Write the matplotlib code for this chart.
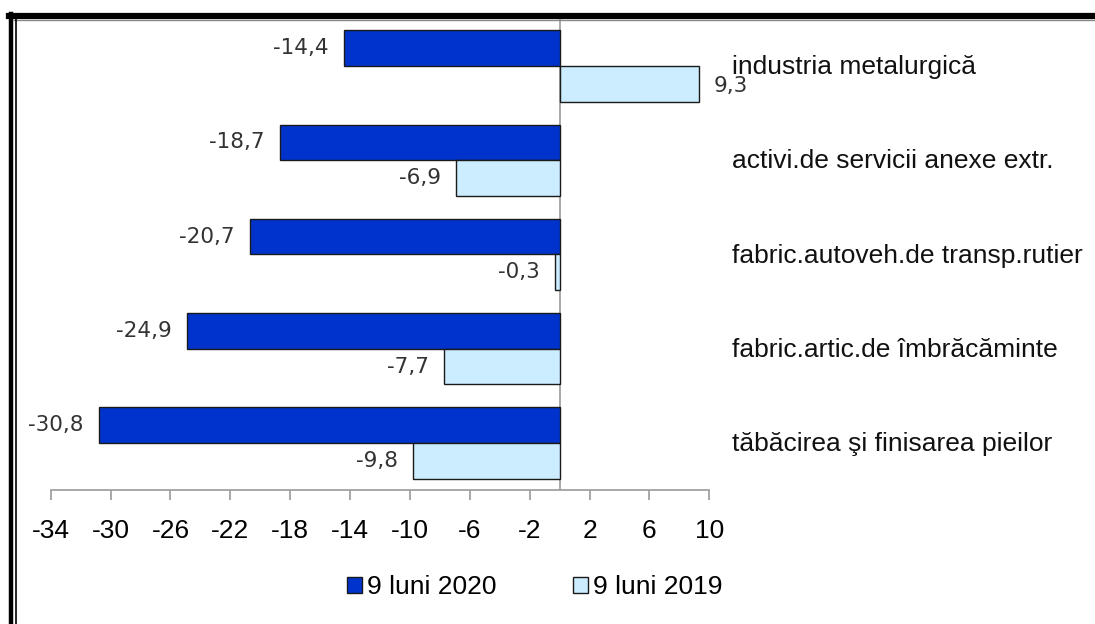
import matplotlib.pyplot as plt
from matplotlib.lines import Line2D

categories = ["industria metalurgică", "activi.de servicii anexe extr.",
              "fabric.autoveh.de transp.rutier", "fabric.artic.de îmbrăcăminte",
              "tăbăcirea şi finisarea pieilor"]
val_2020 = [-14.4, -18.7, -20.7, -24.9, -30.8]
val_2019 = [9.3, -6.9, -0.3, -7.7, -9.8]
series = ["9 luni 2020", "9 luni 2019"]
ticks = [-34, -30, -26, -22, -18, -14, -10, -6, -2, 2, 6, 10]

W, H = 1095, 624
fig = plt.figure(figsize=(W / 100, H / 100), dpi=100)
ax = fig.add_axes([50.7 / W, (H - 490) / H, (709.3 - 50.7) / W, (490 - 19) / H])

bh = 0.38
ypos = list(range(len(categories)))
b1 = ax.barh([y - bh / 2 for y in ypos], val_2020, height=bh, color="#0033CC",
             edgecolor="#1a1a1a", linewidth=1, label=series[0], zorder=3)
b2 = ax.barh([y + bh / 2 for y in ypos], val_2019, height=bh, color="#CCECFF",
             edgecolor="#1a1a1a", linewidth=1, label=series[1], zorder=3)

ax.set_xlim(-34, 10)
ax.set_ylim(len(categories) - 0.5, -0.5)
ax.axvline(0, color="#9a9a9a", lw=1.2, zorder=2)

def fmt(v):
    return f"{v:.1f}".replace(".", ",")

for bars, vals in ((b1, val_2020), (b2, val_2019)):
    for rect, v in zip(bars, vals):
        yc = rect.get_y() + rect.get_height() / 2
        if v < 0:
            ax.annotate(fmt(v), (v, yc), xytext=(-11, 0), textcoords="offset points",
                        ha="right", va="center", fontsize=15.5, color="#333333",
                        family="DejaVu Sans")
        else:
            ax.annotate(fmt(v), (v, yc), xytext=(11, -1.5), textcoords="offset points",
                        ha="left", va="center", fontsize=15.5, color="#333333",
                        family="DejaVu Sans")

for y, name in zip(ypos, categories):
    fig.text(732 / W, 1 - (20 + (y + 0.5) * 94.3) / H, name, ha="left", va="center",
             fontsize=19, family="Liberation Sans", color="#111111")

for s in ("top", "right", "left"):
    ax.spines[s].set_visible(False)
ax.spines["bottom"].set_color("#9a9a9a")
ax.spines["bottom"].set_linewidth(1.2)
ax.set_yticks([])
ax.set_xticks(ticks)
ax.set_xticklabels([str(t) for t in ticks], fontsize=19, family="Liberation Sans")
ax.tick_params(axis="x", length=7, width=1.2, color="#9a9a9a", pad=14)

fig.legend(handles=[b1, b2], labels=series, loc="center",
           bbox_to_anchor=(535 / W, 1 - 587 / H), ncol=2, frameon=False,
           prop={"family": "Liberation Sans", "size": 19},
           handlelength=0.55, handleheight=0.55, handletextpad=0.2, columnspacing=2.9)

# frame lines
fig.add_artist(Line2D([9 / W, 1], [1 - 16 / H, 1 - 16 / H], color="black", lw=4.5))
fig.add_artist(Line2D([14 / W, 1], [1 - 19.5 / H, 1 - 19.5 / H], color="#888888", lw=1))
fig.add_artist(Line2D([11 / W, 11 / W], [0, 1 - 14 / H], color="black", lw=3.2))
fig.add_artist(Line2D([15.5 / W, 15.5 / W], [0, 1 - 18 / H], color="black", lw=1.2))

fig.savefig("out.png", dpi=100)
